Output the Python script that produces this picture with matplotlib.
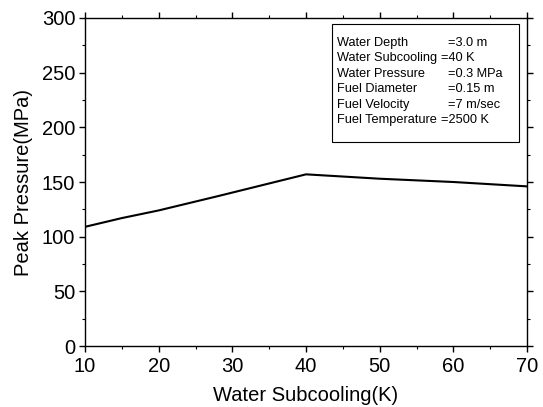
import matplotlib
matplotlib.use('Agg')
import matplotlib.pyplot as plt
from matplotlib.ticker import MultipleLocator

plt.rcParams['font.family'] = ['Liberation Sans', 'DejaVu Sans']

# Data
subcooling = [10, 15, 20, 28, 31, 40, 45, 50, 60, 70]
peak_pressure = [109, 117, 124, 137, 142, 157, 155, 153, 150, 146]

box_names = ['Water Depth', 'Water Subcooling', 'Water Pressure',
             'Fuel Diameter', 'Fuel Velocity', 'Fuel Temperature']
box_values = ['=3.0 m', '=40 K', '=0.3 MPa', '=0.15 m', '=7 m/sec', '=2500 K']

fig = plt.figure(figsize=(5.43, 4.07), dpi=100)
ax = fig.add_axes([85 / 543, 1 - 346 / 407, 442 / 543, 328 / 407])

ax.plot(subcooling, peak_pressure, color='black', lw=1.5)

ax.set_xlim(10, 70)
ax.set_ylim(0, 300)
ax.xaxis.set_major_locator(MultipleLocator(10))
ax.xaxis.set_minor_locator(MultipleLocator(5))
ax.yaxis.set_major_locator(MultipleLocator(50))
ax.yaxis.set_minor_locator(MultipleLocator(25))
ax.tick_params(which='both', top=True, right=True, direction='out', labelsize=14.5)
ax.tick_params(which='major', length=4, width=1.0)
ax.tick_params(which='minor', length=2.5, width=0.8)
ax.tick_params(axis='x', pad=4)
ax.tick_params(axis='y', pad=3)
for s in ax.spines.values():
    s.set_linewidth(1.0)

ax.set_xlabel('Water Subcooling(K)', fontsize=14.5, labelpad=7)
ax.set_ylabel('Peak Pressure(MPa)', fontsize=14.5, labelpad=6)

# parameter box
bx0, by0, bx1, by1 = 332 / 543, 1 - 142 / 407, 519 / 543, 1 - 24 / 407
fig.patches.append(plt.Rectangle((bx0, by0), bx1 - bx0, by1 - by0,
                                 transform=fig.transFigure, fill=False,
                                 edgecolor='black', lw=0.8))
value_x = [448, 441, 448, 448, 448, 441]
for i, (name, val) in enumerate(zip(box_names, box_values)):
    y = 1 - (43 + i * 15.4) / 407
    fig.text(337 / 543, y, name, fontsize=9.2, va='center')
    fig.text(value_x[i] / 543, y, val, fontsize=9.2, va='center')

fig.savefig('out.png', dpi=100)
